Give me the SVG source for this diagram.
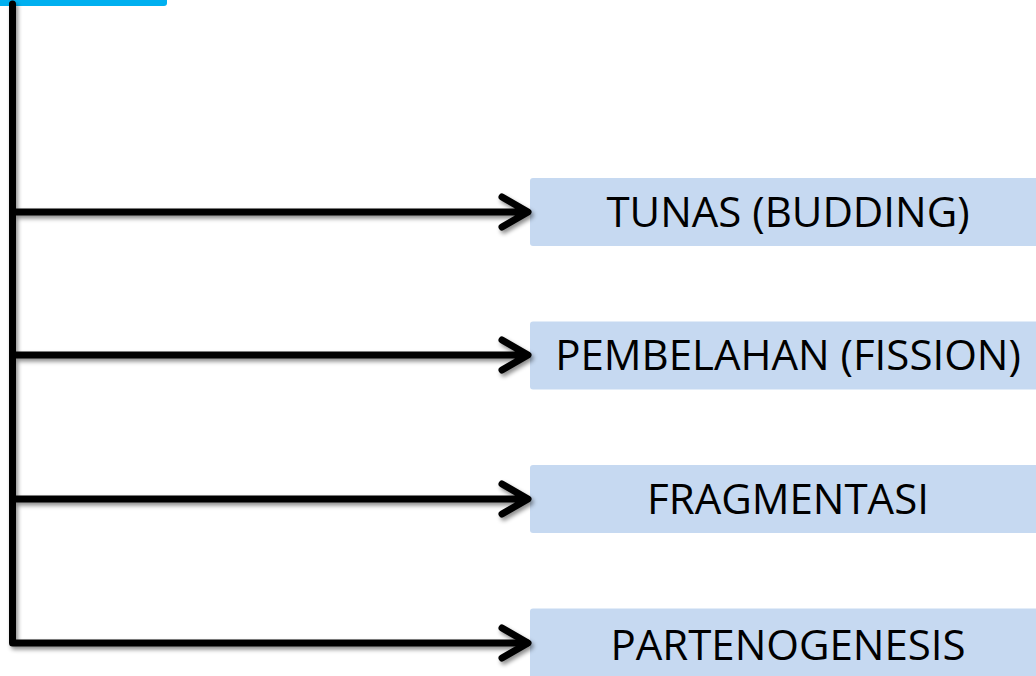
<svg xmlns="http://www.w3.org/2000/svg" width="1036" height="676" viewBox="0 0 1036 676">
<style>
.box{fill:#C6D9F1}
.lbl{font-family:"Open Sans","Liberation Sans",sans-serif;font-size:42px;fill:#000;text-anchor:middle}
.ln{fill:none;stroke:#000;stroke-width:7;stroke-linecap:round;stroke-linejoin:round}
</style>
<defs>
<filter id="sh" x="-5%" y="-5%" width="110%" height="110%">
<feDropShadow dx="2" dy="3" stdDeviation="2" flood-color="#000" flood-opacity="0.45"/>
</filter>
</defs>
<rect x="-10" y="-10" width="177" height="16" rx="3" fill="#00B0F0"/>
<g id="node1"><rect class="box" x="530" y="178" width="520" height="68" rx="3"/><text class="lbl" x="788" y="227">TUNAS (BUDDING)</text></g>
<g id="node2"><rect class="box" x="530" y="321.5" width="520" height="68" rx="3"/><text class="lbl" x="788" y="370">PEMBELAHAN (FISSION)</text></g>
<g id="node3"><rect class="box" x="530" y="465" width="520" height="68" rx="3"/><text class="lbl" x="788" y="514">FRAGMENTASI</text></g>
<g id="node4"><rect class="box" x="530" y="608.5" width="520" height="80" rx="3"/><text class="lbl" x="788" y="660">PARTENOGENESIS</text></g>
<g id="connectors" filter="url(#sh)">
<path class="ln" d="M12.5 4 V643 H527"/>
<path class="ln" d="M12.5 212 H527 M502 197 L528 212 L502 227"/>
<path class="ln" d="M12.5 355 H527 M502 340 L528 355 L502 370"/>
<path class="ln" d="M12.5 499 H527 M502 484 L528 499 L502 514"/>
<path class="ln" d="M502 628 L528 643 L502 658"/>
</g>
</svg>
